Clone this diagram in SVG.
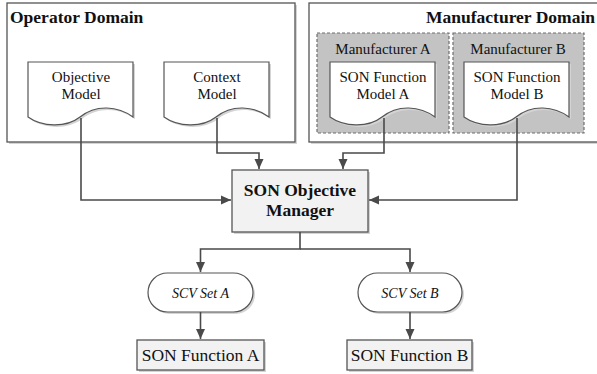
<svg xmlns="http://www.w3.org/2000/svg" width="597" height="374" viewBox="0 0 597 374">
<style>
.sh{fill:#d4d4d4;stroke:none}
.dom{fill:#fff;stroke:#555;stroke-width:1.3}
.mfr{fill:#c3c3c3;stroke:#6e6e6e;stroke-width:1.2;stroke-dasharray:3 2}
.doc{fill:#fff;stroke:#555;stroke-width:1.2}
.box{fill:#f2f2f2;stroke:#555;stroke-width:1.3}
.pill{fill:#fff;stroke:#555;stroke-width:1.2}
text{font-family:'Liberation Serif','DejaVu Serif',serif;fill:#111}
.tb{font-weight:bold;font-size:17.5px}
.c{text-anchor:middle}
.con{fill:none;stroke:#4a4a4a;stroke-width:1.6}
</style>
<defs>
<marker id="ah" markerWidth="10" markerHeight="10" viewBox="0 0 10 10" refX="10" refY="5" orient="auto" markerUnits="userSpaceOnUse">
<path d="M0,0.5 L10,5 L0,9.5 Z" fill="#4a4a4a"/>
</marker>
<path id="docp" d="M0,0 H105 V55 C90,44 68,42 52,55 C38,66 14,65 0,55 Z"/>
</defs>

<g id="operator-domain">
<rect class="sh" x="9" y="5" width="288" height="139"/>
<rect class="dom" x="7" y="3" width="288" height="139"/>
<text class="tb" x="10" y="23">Operator Domain</text>
</g>

<g id="manufacturer-domain">
<rect class="sh" x="311" y="5" width="300" height="139"/>
<rect class="dom" x="309" y="3" width="300" height="139"/>
<text class="tb" x="595" y="23" text-anchor="end">Manufacturer Domain</text>
</g>

<g id="manufacturer-a">
<rect class="mfr" x="317" y="33" width="132" height="100"/>
<text class="c" x="383" y="54" font-size="15">Manufacturer A</text>
</g>

<g id="manufacturer-b">
<rect class="mfr" x="453" y="33" width="131" height="100"/>
<text class="c" x="518" y="54" font-size="15">Manufacturer B</text>
</g>

<g id="objective-model">
<use href="#docp" class="sh" transform="translate(30,64)"/>
<use href="#docp" class="doc" transform="translate(28,62)"/>
<text class="c" x="81" y="82" font-size="15">Objective</text>
<text class="c" x="81" y="99" font-size="15">Model</text>
</g>

<g id="context-model">
<use href="#docp" class="sh" transform="translate(166,64)"/>
<use href="#docp" class="doc" transform="translate(164,62)"/>
<text class="c" x="217" y="82" font-size="15">Context</text>
<text class="c" x="217" y="99" font-size="15">Model</text>
</g>

<g id="son-function-model-a">
<use href="#docp" class="sh" transform="translate(332,64)"/>
<use href="#docp" class="doc" transform="translate(330,62)"/>
<text class="c" x="383" y="82" font-size="15">SON Function</text>
<text class="c" x="383" y="99" font-size="15">Model A</text>
</g>

<g id="son-function-model-b">
<use href="#docp" class="sh" transform="translate(466,64)"/>
<use href="#docp" class="doc" transform="translate(464,62)"/>
<text class="c" x="517" y="82" font-size="15">SON Function</text>
<text class="c" x="517" y="99" font-size="15">Model B</text>
</g>

<g id="son-objective-manager">
<rect class="sh" x="234" y="172" width="136" height="62"/>
<rect class="box" x="232" y="170" width="136" height="62"/>
<text class="tb c" x="300" y="196">SON Objective</text>
<text class="tb c" x="300" y="216">Manager</text>
</g>

<g id="scv-set-a">
<rect class="sh" x="150" y="275" width="105" height="39" rx="19.5"/>
<rect class="pill" x="148" y="273" width="105" height="39" rx="19.5"/>
<text class="c" x="200.5" y="298" font-size="14" font-style="italic">SCV Set A</text>
</g>

<g id="scv-set-b">
<rect class="sh" x="360" y="275" width="104" height="39" rx="19.5"/>
<rect class="pill" x="358" y="273" width="104" height="39" rx="19.5"/>
<text class="c" x="410" y="298" font-size="14" font-style="italic">SCV Set B</text>
</g>

<g id="son-function-a">
<rect class="sh" x="139" y="342" width="127" height="30"/>
<rect class="box" x="137" y="340" width="127" height="30"/>
<text class="c" x="200.5" y="361" font-size="17.5">SON Function A</text>
</g>

<g id="son-function-b">
<rect class="sh" x="349" y="342" width="125" height="30"/>
<rect class="box" x="347" y="340" width="125" height="30"/>
<text class="c" x="409.5" y="361" font-size="17.5">SON Function B</text>
</g>

<g id="connectors">
<path class="con" d="M81,118 V200 H231" marker-end="url(#ah)"/>
<path class="con" d="M217,118 V153 H259 V169" marker-end="url(#ah)"/>
<path class="con" d="M384,118 V153 H343 V169" marker-end="url(#ah)"/>
<path class="con" d="M517,118 V200 H369" marker-end="url(#ah)"/>
<path class="con" d="M300,232 V249 H200.5 V272" marker-end="url(#ah)"/>
<path class="con" d="M300,249 H410 V272" marker-end="url(#ah)"/>
<path class="con" d="M200.5,312 V339" marker-end="url(#ah)"/>
<path class="con" d="M410,312 V339" marker-end="url(#ah)"/>
</g>
</svg>
